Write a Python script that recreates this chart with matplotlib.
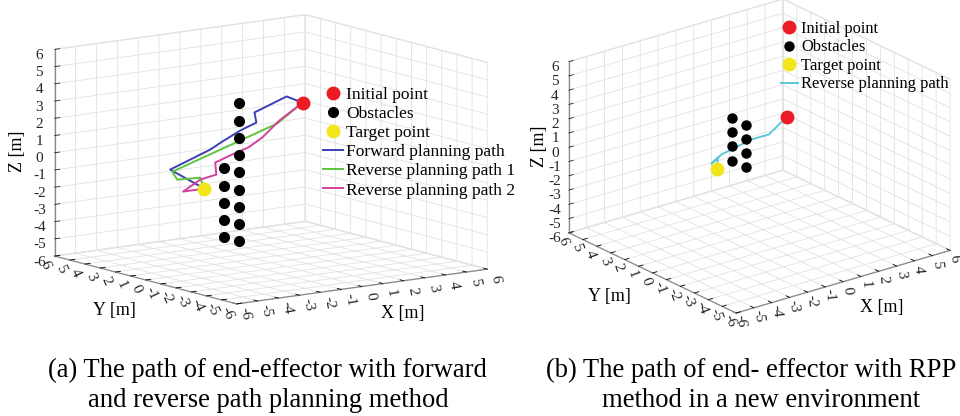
import matplotlib
matplotlib.use('Agg')
import matplotlib.pyplot as plt
from matplotlib.lines import Line2D
from mpl_toolkits.mplot3d import proj3d

plt.rcParams['font.family'] = ['Liberation Serif', 'DejaVu Serif']
plt.rcParams['grid.color'] = '#e2e2e2'
plt.rcParams['grid.linewidth'] = 0.6

# ---------------- Panel (a) data ----------------
obs_a_x = [-0.5] * 14
obs_a_y = [1.4, 1.4, 1.4, 1.4, 1.4, 1.4, 1.4, 1.4, 1.4, 2.4, 2.4, 2.4, 2.4, 2.4]
obs_a_z = [3, 2, 1, 0, -1, -2, -3, -4, -5, -1, -2, -3, -4, -5]
init_a = [2.6, 1.5, 2.5]
target_a = [-2.1, 1.5, -1.7]
fwd_x = [2.6, 1.84, 0.30, 0.39, -0.37, -1.24, -1.82, -3.74, -2.1]
fwd_y = [1.5, 1.5, 1.5, 1.5, 1.5, 1.5, 1.5, 1.5, 1.5]
fwd_z = [2.5, 2.99, 2.32, 1.72, 1.39, 0.89, 0.52, -0.32, -1.7]
rev1_x = [2.6, 1.40, -3.64, -3.40, -2.30, -2.1]
rev1_y = [1.5, 1.5, 1.5, 1.5, 1.5, 1.5]
rev1_z = [2.5, 1.50, -0.46, -0.96, -1.03, -1.7]
rev2_x = [2.6, 1.5, 0.68, 0.01, -0.76, -1.58, -1.53, -2.30, -3.12, -2.1]
rev2_y = [1.5, 1.5, 1.5, 1.5, 1.5, 1.5, 1.5, 1.5, 1.5, 1.5]
rev2_z = [2.5, 1.66, 0.81, 0.34, 0.06, -0.27, -0.98, -1.14, -1.70, -1.7]

# ---------------- Panel (b) data ----------------
obs_b_x = [-0.27] * 8
obs_b_y = [1.65, 1.65, 1.65, 1.65, 0.65, 0.65, 0.65, 0.65]
obs_b_z = [2, 1, 0, -1, 2, 1, 0, -1]
init_b = [3.1, 2.0, 0.7]
target_b = [-0.8, 2.0, -1.55]
rpp_x = [3.1, 2.09, 1.09, 0.42, -0.58, -1.13, -0.75, -0.8, -0.8]
rpp_y = [2.0, 2.0, 2.0, 2.0, 2.0, 2.0, 2.0, 2.0, 2.0]
rpp_z = [0.7, -0.19, -0.18, -0.36, -0.62, -1.06, -0.75, -1.1, -1.55]

ticks = [-6, -5, -4, -3, -2, -1, 0, 1, 2, 3, 4, 5, 6]
tick_labels = ['-6', '-5', '-4', '-3', '-2', '-1', '0', '1', '2', '3', '4', '5', '6']

C_RED = '#ec1c24'
C_YEL = '#f2e51c'
C_BLUE = '#3c40b4'
C_GREEN = '#5ec43c'
C_MAG = '#d2429c'
C_CYAN = '#5cc6dc'
C_TXT = '#262626'

fig = plt.figure(figsize=(9.6, 4.16), dpi=100)


def setup(ax, elev, azim, zasp, zoom):
    ax.set_proj_type('ortho')
    ax.view_init(elev=elev, azim=azim)
    ax.set_xlim(-6, 6)
    ax.set_ylim(-6, 6)
    ax.set_zlim(-6, 6)
    ax.set_xticks(ticks)
    ax.set_yticks(ticks)
    ax.set_zticks(ticks)
    ax.set_xticklabels([''] * len(ticks))
    ax.set_yticklabels([''] * len(ticks))
    ax.set_zticklabels(tick_labels)
    ax.set_box_aspect((1, 1, zasp), zoom=zoom)
    for axis in (ax.xaxis, ax.yaxis, ax.zaxis):
        axis.set_pane_color((1, 1, 1, 1))
        axis.pane.set_edgecolor('#e6e6e6')
        axis.line.set_color('#8a8a8a')
        axis.line.set_linewidth(0.9)
        axis._axinfo['grid'].update(color='#e2e2e2', linewidth=0.6)
        axis._axinfo['tick'].update(inward_factor=0.0, outward_factor=0.25)
        axis._axinfo['tick']['linewidth'] = {True: 0.6, False: 0.5}
        axis.set_rotate_label(False)
    ax.tick_params(axis='z', labelsize=11, colors=C_TXT, pad=-3)


def add_rotated_ticklabels(ax, xoff, yoff, xrot, yrot):
    # project tick positions with the axes' own 3D projection, then write
    # rotated labels there (as in the reference)
    M = ax.M if getattr(ax, 'M', None) is not None else ax.get_proj()
    for t, s in zip(ticks, tick_labels):
        px, py, _ = proj3d.proj_transform(t, -6 + xoff[0], -6 + xoff[1], M)
        ax.text2D(px, py, s, transform=ax.transData, fontsize=11, color=C_TXT,
                  rotation=xrot, ha='center', va='center', rotation_mode='anchor')
        px, py, _ = proj3d.proj_transform(-6 + yoff[0], t, -6 + yoff[1], M)
        ax.text2D(px, py, s, transform=ax.transData, fontsize=11, color=C_TXT,
                  rotation=yrot, ha='center', va='center', rotation_mode='anchor')


# ---------------- Panel (a) ----------------
axa = fig.add_axes([-0.003, 0.155, 0.56, 0.9], projection='3d')
setup(axa, 11, -126, 0.68, 1.26)
axa.plot(obs_a_x, obs_a_y, obs_a_z, 'o', color='black', ms=7, zorder=3)
axa.plot(fwd_x, fwd_y, fwd_z, color=C_BLUE, lw=1.4)
axa.plot(rev1_x, rev1_y, rev1_z, color=C_GREEN, lw=1.4)
axa.plot(rev2_x, rev2_y, rev2_z, color=C_MAG, lw=1.4)
axa.plot([init_a[0]], [init_a[1]], [init_a[2]], 'o', color=C_RED, ms=9, zorder=5)
axa.plot([target_a[0]], [target_a[1]], [target_a[2]], 'o', color=C_YEL, ms=9, zorder=5)
axa.set_xlabel('X [m]', fontsize=13, labelpad=-6)
axa.set_ylabel('Y [m]', fontsize=13, labelpad=-3.5)
axa.set_zlabel('Z [m]', fontsize=13, rotation=90, labelpad=-9)
axa.xaxis._axinfo['label']['ha'] = 'left'

h_a = [Line2D([], [], ls='', marker='o', color=C_RED, ms=9),
       Line2D([], [], ls='', marker='o', color='black', ms=7),
       Line2D([], [], ls='', marker='o', color=C_YEL, ms=9),
       Line2D([], [], color=C_BLUE, lw=1.4),
       Line2D([], [], color=C_GREEN, lw=1.4),
       Line2D([], [], color=C_MAG, lw=1.4)]
l_a = ['Initial point', 'Obstacles', 'Target point', 'Forward planning path',
       'Reverse planning path 1', 'Reverse planning path 2']
fig.legend(h_a, l_a, loc='upper left', bbox_to_anchor=(0.327, 0.812), frameon=False,
           fontsize=12.5, handlelength=1.15, handletextpad=0.2, labelspacing=0.17,
           borderpad=0)

# ---------------- Panel (b) ----------------
axb = fig.add_axes([0.566, 0.173, 0.44, 0.88], projection='3d')
setup(axb, 22, -128, 0.68, 1.13)
axb.plot(obs_b_x, obs_b_y, obs_b_z, 'o', color='black', ms=6.5, zorder=3)
axb.plot(rpp_x, rpp_y, rpp_z, color=C_CYAN, lw=1.4)
axb.plot([init_b[0]], [init_b[1]], [init_b[2]], 'o', color=C_RED, ms=9, zorder=5)
axb.plot([target_b[0]], [target_b[1]], [target_b[2]], 'o', color=C_YEL, ms=9, zorder=5)
axb.set_xlabel('X [m]', fontsize=13, labelpad=-7)
axb.set_ylabel('Y [m]', fontsize=13, labelpad=-7)
axb.set_zlabel('Z [m]', fontsize=13, rotation=90, labelpad=-10.5)
axb.xaxis._axinfo['label']['ha'] = 'left'
axb.yaxis._axinfo['label']['ha'] = 'right'

h_b = [Line2D([], [], ls='', marker='o', color=C_RED, ms=9),
       Line2D([], [], ls='', marker='o', color='black', ms=6.5),
       Line2D([], [], ls='', marker='o', color=C_YEL, ms=9),
       Line2D([], [], color=C_CYAN, lw=1.4)]
l_b = ['Initial point', 'Obstacles', 'Target point', 'Reverse planning path']
fig.legend(h_b, l_b, loc='upper left', bbox_to_anchor=(0.805, 0.97), frameon=False,
           fontsize=11.9, handlelength=1.0, handletextpad=0.2, labelspacing=0.156,
           borderpad=0)

# ---------------- Captions ----------------
fig.text(0.279, 0.11, '(a) The path of end-effector with forward', ha='center',
         va='center', fontsize=19.2)
fig.text(0.279, 0.038, 'and reverse path planning method', ha='center',
         va='center', fontsize=19.2)
fig.text(0.996, 0.11, '(b) The path of end- effector with RPP', ha='right',
         va='center', fontsize=19.2)
fig.text(0.793, 0.038, 'method in a new environment', ha='center',
         va='center', fontsize=19.2)

# the projection matrices are fixed after a first draw
fig.canvas.draw()
add_rotated_ticklabels(axa, (-0.55, -0.45), (-0.45, -0.45), -80, -65)
add_rotated_ticklabels(axb, (-0.3, -0.45), (-0.35, -0.45), -85, -70)

fig.savefig('out.png', dpi=100)
